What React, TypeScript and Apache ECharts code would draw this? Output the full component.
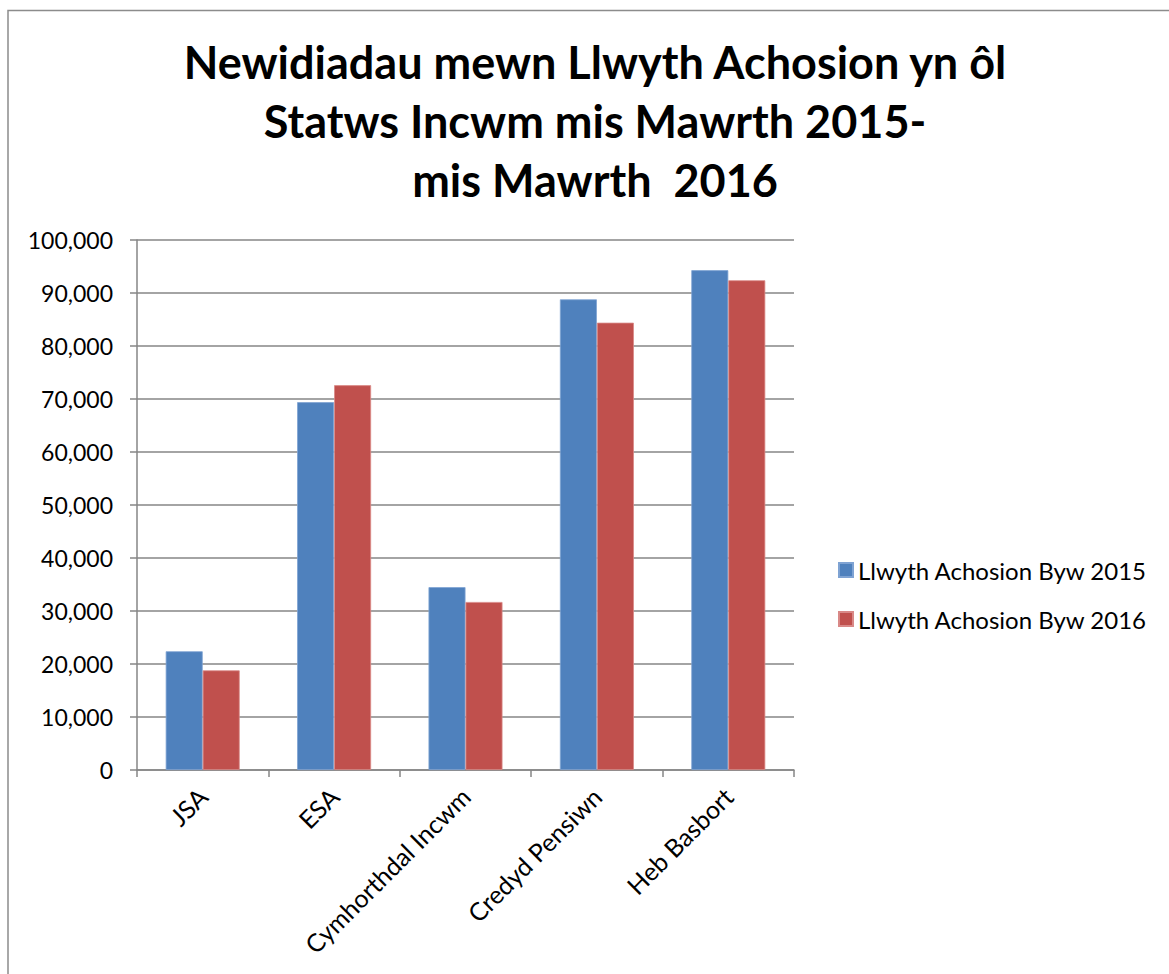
import React, { useEffect, useRef } from "react";
import * as echarts from "echarts";

const categories = ["JSA", "ESA", "Cymhorthdal Incwm", "Credyd Pensiwn", "Heb Basbort"];
const series2015 = [22400, 69400, 34500, 88800, 94300];
const series2016 = [18800, 72600, 31700, 84400, 92400];
const seriesNames = ["Llwyth Achosion Byw 2015", "Llwyth Achosion Byw 2016"];
const titleText = "Newidiadau mewn Llwyth Achosion yn ôl\nStatws Incwm mis Mawrth 2015-\nmis Mawrth  2016";

const FONT = "Lato, 'Noto Sans', sans-serif";

export default function App() {
  const ref = useRef<HTMLDivElement>(null);
  useEffect(() => {
    if (!ref.current) return;
    const chart = echarts.init(ref.current, undefined, { renderer: "svg" });
    const axisGray = "#868686";
    chart.setOption({
      animation: false,
      backgroundColor: "#ffffff",
      textStyle: { fontFamily: FONT },
      title: {
        text: titleText,
        left: 590,
        top: 27,
        textAlign: "center",
        textStyle: {
          fontFamily: FONT,
          fontSize: 45,
          fontWeight: "bold",
          color: "#000000",
          lineHeight: 59,
        },
      },
      graphic: [
        {
          type: "rect",
          shape: { x: 8, y: 10.5, width: 1300, height: 1100 },
          style: { fill: "none", stroke: "#8c8c8c", lineWidth: 1.5 },
          silent: true,
        },
      ],
      legend: {
        orient: "vertical",
        left: 833,
        top: 553,
        itemWidth: 14,
        itemHeight: 14,
        itemGap: 25,
        icon: "rect",
        textStyle: { fontFamily: FONT, fontSize: 24, color: "#000000" },
        data: seriesNames,
      },
      grid: { left: 137, top: 240, right: 375, bottom: 204, containLabel: false },
      xAxis: {
        type: "category",
        data: categories,
        axisLine: { show: true, lineStyle: { color: axisGray, width: 1.5 } },
        axisTick: { show: true, length: 7, lineStyle: { color: axisGray, width: 1.5 } },
        axisLabel: {
          rotate: 45,
          interval: 0,
          margin: 22,
          fontFamily: FONT,
          fontSize: 25,
          color: "#000000",
        },
      },
      yAxis: {
        type: "value",
        min: 0,
        max: 100000,
        interval: 10000,
        axisLine: { show: true, lineStyle: { color: axisGray, width: 1.5 } },
        axisTick: { show: true, length: 7, lineStyle: { color: axisGray, width: 1.5 } },
        splitLine: { show: true, lineStyle: { color: axisGray, width: 1.5 } },
        axisLabel: {
          margin: 24,
          fontFamily: FONT,
          fontSize: 23,
          color: "#000000",
          formatter: (v: number) => v.toLocaleString("en-US"),
        },
      },
      series: [
        {
          name: seriesNames[0],
          type: "bar",
          data: series2015,
          barGap: "0%",
          barCategoryGap: "43.7%",
          itemStyle: { color: "#4F81BD", borderColor: "#7fa3d3", borderWidth: 0.8 },
        },
        {
          name: seriesNames[1],
          type: "bar",
          data: series2016,
          barGap: "0%",
          barCategoryGap: "43.7%",
          itemStyle: { color: "#C0504D", borderColor: "#d98987", borderWidth: 0.8 },
        },
      ],
    });
    return () => chart.dispose();
  }, []);
  return (
    <div
      ref={ref}
      style={{ position: "absolute", left: 0, top: 0, width: 1169, height: 974 }}
    />
  );
}
